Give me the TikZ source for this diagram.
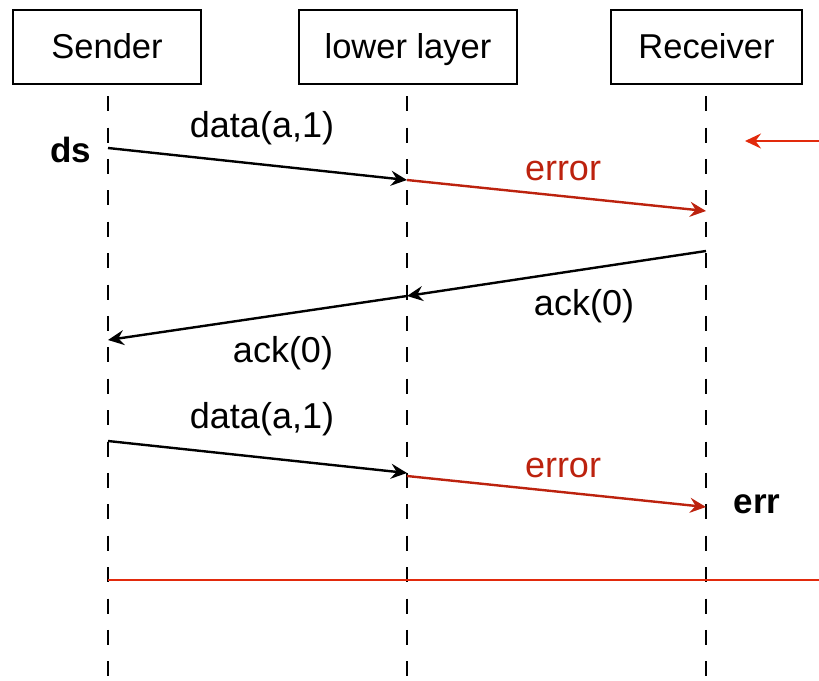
\documentclass[tikz,border=0pt]{standalone}
\usepackage{fontspec}
\setmainfont{Liberation Sans}
\usetikzlibrary{arrows.meta}
\definecolor{errred}{RGB}{188,34,14}
\definecolor{brightred}{RGB}{226,42,12}
\begin{document}
\begin{tikzpicture}[x=1pt,y=-1pt,
  font=\fontsize{36}{42}\selectfont,
  actor/.style={draw, line width=2.2pt, minimum height=74pt, inner sep=0pt,
    font=\fontsize{34.5}{40}\selectfont, text height=24pt, text depth=1pt},
  lifeline/.style={line width=2.6pt, dash pattern=on 15pt off 16.4pt, dash phase=20.4pt},
  msg/.style={line width=2.4pt, -{Stealth[length=16pt,width=15pt,inset=5.5pt]}},
  lbl/.style={inner sep=0pt, anchor=base},
  boldlbl/.style={font=\fontsize{35}{40}\selectfont\bfseries, inner sep=0pt, anchor=base}]
\useasboundingbox (0,0) rectangle (819,680);

% participants
\node[actor, minimum width=188pt] (S) at (107,47) {Sender};
\node[actor, minimum width=218pt] (L) at (408,47) {lower layer};
\node[actor, minimum width=191pt] (R) at (706.5,47) {Receiver};

% lifelines
\coordinate (Send) at (108,680);
\coordinate (Lend) at (407,680);
\coordinate (Rend) at (706,680);
\draw[lifeline] (S.south -| Send) -- (Send);
\draw[lifeline] (L.south -| Lend) -- (Lend);
\draw[lifeline] (R.south -| Rend) -- (Rend);

% message points on the lifelines
\coordinate (s1) at (108,148);
\coordinate (l1) at (407,180);
\coordinate (r1) at (706,211);
\coordinate (r2) at (706,251);
\coordinate (l2) at (407,296);
\coordinate (s2) at (108,340);
\coordinate (s3) at (108,441);
\coordinate (l3) at (407,473);
\coordinate (r3) at (706,507);
\coordinate (l3b) at (407,476);
\coordinate (tr1) at (819,141);
\coordinate (tr2) at (745,141);
\coordinate (h1) at (108,580);
\coordinate (h2) at (819,580);

% first attempt
\draw[msg] (s1) -- (l1);
\draw[msg, errred] (l1) -- (r1);
\draw[msg] (r2) -- (l2);
\draw[msg] (l2) -- (s2);
% second attempt
\draw[msg] (s3) -- (l3);
\draw[msg, errred] (l3b) -- (r3);
% incoming marker and cut line
\draw[msg, brightred] (tr1) -- (tr2);
\draw[line width=2.4pt, brightred] (h1) -- (h2);

% labels
\node[lbl] (t1) at (262,137) {data(a,1)};
\node[lbl, text=errred] (t2) at (563,180) {error};
\node[lbl] (t3) at (584,315) {ack(0)};
\node[lbl] (t4) at (283,362) {ack(0)};
\node[lbl] (t5) at (262,428) {data(a,1)};
\node[lbl, text=errred] (t6) at (563,477) {error};
\node[boldlbl] (ds) at (70.5,162) {ds};
\node[boldlbl] (err) at (757,513) {err};
\end{tikzpicture}
\end{document}
